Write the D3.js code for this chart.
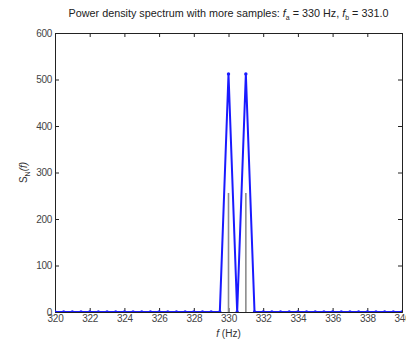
<!DOCTYPE html>
<html>
<head>
<meta charset="utf-8">
<script src="https://cdn.jsdelivr.net/npm/d3@7"></script>
<style>
  body { margin: 0; background: #fff; }
  svg { display: block; font-family: "Liberation Sans", Arial, sans-serif; }
</style>
</head>
<body>
<div id="chart"></div>
<script>
// frequency samples (Hz)
const freqs = [320, 320.5, 321, 321.5, 322, 322.5, 323, 323.5, 324, 324.5,
  325, 325.5, 326, 326.5, 327, 327.5, 328, 328.5, 329, 329.5,
  330, 330.5, 331, 331.5, 332, 332.5, 333, 333.5, 334, 334.5,
  335, 335.5, 336, 336.5, 337, 337.5, 338, 338.5, 339, 339.5, 340];
// power density S_N(f)
const power = [0, 0, 0, 0, 0, 0, 0, 0, 0, 0,
  0, 0, 0, 0, 0, 0, 0, 0, 0, 0,
  512, 0, 512, 0, 0, 0, 0, 0, 0, 0,
  0, 0, 0, 0, 0, 0, 0, 0, 0, 0, 0];
// true tones shown as gray stems
const toneFreqs = [330, 331];
const toneValues = [256, 256];
const xTicks = [320, 322, 324, 326, 328, 330, 332, 334, 336, 338, 340];
const yTicks = [0, 100, 200, 300, 400, 500, 600];

const W = 406, H = 341;
const margin = { left: 55, right: 4, top: 33, bottom: 29 };
const width = W - margin.left - margin.right;
const height = H - margin.top - margin.bottom;

const svg = d3.select('#chart').append('svg')
  .attr('width', W).attr('height', H);

const g = svg.append('g')
  .attr('transform', 'translate(' + margin.left + ',' + margin.top + ')');

const x = d3.scaleLinear().domain([320, 340]).range([0, width]);
const y = d3.scaleLinear().domain([0, 600]).range([height, 0]);

svg.append('defs').append('clipPath').attr('id', 'clip')
  .append('rect').attr('width', width).attr('height', height + 3).attr('y', -3);

// axes: ticks pointing inward, box round the plot
const axisColor = '#222';
const labelColor = '#444';

const xAxis = g.append('g').attr('transform', 'translate(0,' + height + ')')
  .call(d3.axisBottom(x).tickValues(xTicks).tickSize(-4).tickPadding(3).tickFormat(d3.format('d')));
const xTop = g.append('g')
  .call(d3.axisTop(x).tickValues(xTicks).tickSize(-4).tickFormat(''));
const yAxis = g.append('g')
  .call(d3.axisLeft(y).tickValues(yTicks).tickSize(-4).tickPadding(3));
const yRight = g.append('g').attr('transform', 'translate(' + width + ',0)')
  .call(d3.axisRight(y).tickValues(yTicks).tickSize(-4).tickFormat(''));

[xAxis, xTop, yAxis, yRight].forEach(a => {
  a.select('.domain').attr('stroke', axisColor).attr('stroke-width', 1);
  a.selectAll('.tick line').attr('stroke', axisColor);
  a.selectAll('text').attr('fill', labelColor).style('font-size', '10px')
    .style('letter-spacing', '-0.3px');
});

const plot = g.append('g').attr('clip-path', 'url(#clip)');

// gray stems for the tones
plot.selectAll('line.stem')
  .data(toneFreqs.map((f, i) => ({ f: f, v: toneValues[i] })))
  .enter().append('line')
  .attr('class', 'stem')
  .attr('x1', d => x(d.f)).attr('x2', d => x(d.f))
  .attr('y1', y(0)).attr('y2', d => y(d.v))
  .attr('stroke', '#8c8c8c').attr('stroke-width', 1.6);

const pts = freqs.map((f, i) => ({ f: f, v: power[i] }));

plot.append('path')
  .datum(pts)
  .attr('fill', 'none')
  .attr('stroke', '#1a1aff')
  .attr('stroke-width', 2)
  .attr('d', d3.line().x(d => x(d.f)).y(d => y(d.v)));

plot.selectAll('circle.pt')
  .data(pts)
  .enter().append('circle')
  .attr('class', 'pt')
  .attr('cx', d => x(d.f)).attr('cy', d => y(d.v))
  .attr('r', 1.7)
  .attr('fill', '#1a1aff');

// title
const title = svg.append('text')
  .attr('x', margin.left + width / 2).attr('y', 17)
  .attr('text-anchor', 'middle')
  .attr('fill', '#222')
  .style('font-size', '10.8px');
title.append('tspan').text('Power density spectrum with more samples: ');
title.append('tspan').attr('font-style', 'italic').text('f');
title.append('tspan').attr('dy', 3).style('font-size', '7px').text('a');
title.append('tspan').attr('dy', -3).text(' = 330 Hz, ');
title.append('tspan').attr('font-style', 'italic').text('f');
title.append('tspan').attr('dy', 3).style('font-size', '7px').text('b');
title.append('tspan').attr('dy', -3).text(' = 331.0');

// x label
const xl = svg.append('text')
  .attr('x', margin.left + width / 2).attr('y', 337)
  .attr('text-anchor', 'middle').attr('fill', '#333')
  .style('font-size', '10px');
xl.append('tspan').attr('font-style', 'italic').text('f');
xl.append('tspan').text(' (Hz)');

// y label
const yl = svg.append('text')
  .attr('transform', 'translate(27,' + (margin.top + height / 2) + ') rotate(-90)')
  .attr('text-anchor', 'middle').attr('fill', '#333')
  .style('font-size', '10px');
yl.append('tspan').text('S');
yl.append('tspan').attr('dy', 3).style('font-size', '7px').text('N');
yl.append('tspan').attr('dy', -3).attr('font-style', 'italic').text('(f)');
</script>
</body>
</html>
